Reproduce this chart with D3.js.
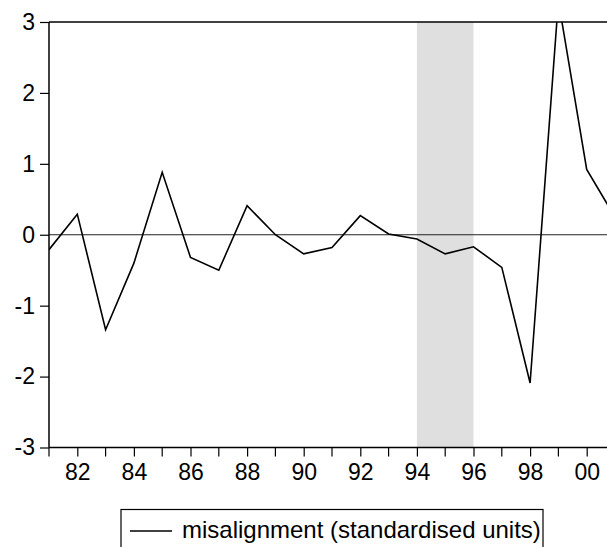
<!DOCTYPE html>
<html>
<head>
<meta charset="utf-8">
<script src="https://cdn.jsdelivr.net/npm/d3@7"></script>
<style>
  body { margin: 0; background: #fff; }
  svg { display: block; }
  text { font-family: "Liberation Sans", Arial, sans-serif; fill: #000; }
</style>
</head>
<body>
<svg width="607" height="547"></svg>
<script>
// data
var years = [1981, 1982, 1983, 1984, 1985, 1986, 1987, 1988, 1989, 1990, 1991,
             1992, 1993, 1994, 1995, 1996, 1997, 1998, 1999, 2000, 2001];
var misalignment = [-0.21, 0.29, -1.34, -0.40, 0.88, -0.32, -0.50, 0.41, 0.00, -0.27, -0.18,
                    0.27, 0.01, -0.06, -0.27, -0.17, -0.46, -2.09, 3.3, 0.92, 0.25];
var yTicks = [-3, -2, -1, 0, 1, 2, 3];
var xMajor = [1982, 1984, 1986, 1988, 1990, 1992, 1994, 1996, 1998, 2000];
var xMinor = [1981, 1983, 1985, 1987, 1989, 1991, 1993, 1995, 1997, 1999, 2001];
var shade = [1994, 1996];
var seriesName = "misalignment (standardised units)";

var svg = d3.select('svg');

var plotLeft = 49, plotTop = 22, plotBottom = 447.5, plotRight = 615;

var x = d3.scaleLinear().domain([1981, 2001]).range([plotLeft, plotRight]);
var y = d3.scaleLinear().domain([-3, 3]).range([plotBottom, plotTop]);

svg.append("clipPath").attr("id", "plotclip")
    .append("rect")
    .attr("x", plotLeft).attr("y", plotTop)
    .attr("width", plotRight - plotLeft).attr("height", plotBottom - plotTop);

// shaded band
svg.append("rect")
    .attr("x", x(shade[0]))
    .attr("y", plotTop)
    .attr("width", x(shade[1]) - x(shade[0]))
    .attr("height", plotBottom - plotTop)
    .attr("fill", "#dfdfdf");

// zero line
svg.append("line")
    .attr("x1", plotLeft).attr("x2", plotRight)
    .attr("y1", y(0)).attr("y2", y(0))
    .attr("stroke", "#222")
    .attr("stroke-width", 1);

// series line
var line = d3.line()
    .x(function (d, i) { return x(years[i]); })
    .y(function (d) { return y(d); });

svg.append("path")
    .datum(misalignment)
    .attr("clip-path", "url(#plotclip)")
    .attr("d", line)
    .attr("fill", "none")
    .attr("stroke", "#000")
    .attr("stroke-width", 1.6);

// frame: top line
svg.append("line")
    .attr("x1", plotLeft).attr("x2", plotRight)
    .attr("y1", plotTop).attr("y2", plotTop)
    .attr("stroke", "#000").attr("stroke-width", 1.5);

// y axis (plain hyphen for negatives, like the original)
var yAxis = d3.axisLeft(y)
    .tickValues(yTicks)
    .tickSize(9)
    .tickPadding(5)
    .tickFormat(function (d) { return String(d); });

var gy = svg.append("g")
    .attr("transform", "translate(" + plotLeft + ",0)")
    .call(yAxis);
gy.select(".domain").attr("stroke-width", 1.5).attr("d", "M0," + plotTop + "V" + plotBottom);
gy.selectAll(".tick line").attr("stroke-width", 1.2);
gy.selectAll("text")
    .attr("font-size", 23)
    .attr("font-family", "Liberation Sans, Arial, sans-serif");

// x axis minor ticks
svg.append("g")
    .selectAll("line")
    .data(xMinor)
    .enter()
    .append("line")
    .attr("x1", function (d) { return x(d); })
    .attr("x2", function (d) { return x(d); })
    .attr("y1", plotBottom)
    .attr("y2", plotBottom + 9)
    .attr("stroke", "#000")
    .attr("stroke-width", 1.2);

var xAxis = d3.axisBottom(x)
    .tickValues(xMajor)
    .tickSize(9)
    .tickPadding(7)
    .tickFormat(function (d) { return d3.format("02d")(d % 100); });

var gx = svg.append("g")
    .attr("transform", "translate(0," + plotBottom + ")")
    .call(xAxis);
gx.select(".domain").attr("stroke-width", 1.5).attr("d", "M" + plotLeft + ",0H" + plotRight);
gx.selectAll(".tick line").attr("stroke-width", 1.2);
gx.selectAll("text")
    .attr("font-size", 23)
    .attr("font-family", "Liberation Sans, Arial, sans-serif");

// legend
var legend = svg.append("g");
legend.append("rect")
    .attr("x", 121).attr("y", 509.5)
    .attr("width", 422).attr("height", 60)
    .attr("fill", "#fff")
    .attr("stroke", "#000")
    .attr("stroke-width", 1.2);
legend.append("line")
    .attr("x1", 130).attr("x2", 172)
    .attr("y1", 531).attr("y2", 531)
    .attr("stroke", "#000").attr("stroke-width", 1.5);
legend.append("text")
    .attr("x", 182).attr("y", 538)
    .attr("font-size", 24)
    .text(seriesName);
</script>
</body>
</html>
